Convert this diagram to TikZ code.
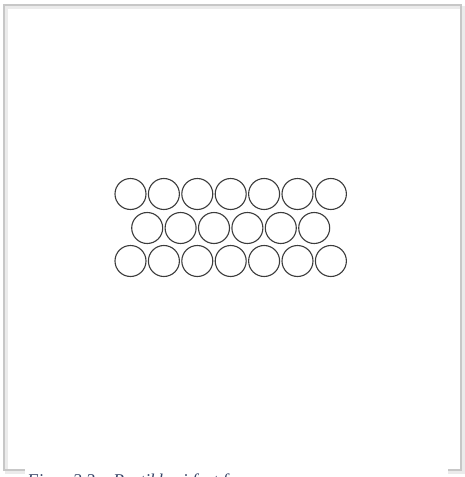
\documentclass[tikz,border=0pt]{standalone}
\usepackage{fontspec}
\setmainfont{Liberation Serif}
\definecolor{capcol}{RGB}{55,70,105}
\definecolor{circcol}{RGB}{60,60,60}
\tikzset{
  particle/.style={circle, draw=circcol, line width=1.1pt, minimum size=31pt, inner sep=0pt},
  framebox/.style={draw=black!22, line width=2.2pt},
  shadowbox/.style={draw=black!8, line width=3pt}
}
\begin{document}
\begin{tikzpicture}[x=1pt,y=-1pt]
\useasboundingbox (0,0) rectangle (465,477);
\fill[white] (0,0) rectangle (465,477);
% frame with soft shadow
\draw[shadowbox] (6,7) rectangle (463,472);
\draw[framebox] (4,5) rectangle (461,470);
% particles
\foreach \i in {0,...,6} {
  \node[particle] (t\i) at (130.5+33.4*\i,194) {};
  \node[particle] (b\i) at (130.5+33.4*\i,261) {};
}
\foreach \i in {0,...,5} {
  \node[particle] (m\i) at (147.2+33.4*\i,228) {};
}
% caption strip
\fill[white] (25,464) rectangle (448,480);
\node[anchor=base west, inner sep=0pt, text=capcol, font=\itshape\fontsize{18}{20}\selectfont] (cap) at (27,486) {Figur 2.3 – Partikler i fast form};
\end{tikzpicture}
\end{document}
